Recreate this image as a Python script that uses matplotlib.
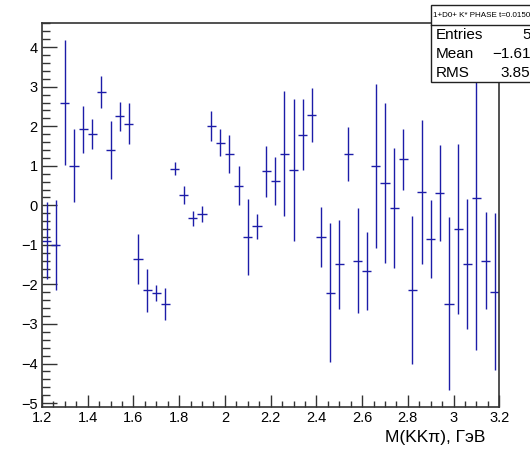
import matplotlib
matplotlib.use("Agg")
import matplotlib.pyplot as plt
from matplotlib.patches import Rectangle
from matplotlib.lines import Line2D
from matplotlib.ticker import MultipleLocator, FormatStrFormatter
import numpy as np

plt.rcParams['font.family'] = ['Liberation Sans', 'DejaVu Sans']

# --- data: 50 bins, width 0.04, from 1.2 to 3.2 ---
bin_lo = 1.2
bin_w = 0.04
values = [-0.89, -1.00, 2.60, 1.00, 1.92, 1.81, 2.86, 1.40, 2.25, 2.07,
          -1.35, -2.15, -2.22, -2.50, 0.93, 0.27, -0.33, -0.21, 2.00, 1.58,
          1.30, 0.50, -0.80, -0.53, 0.86, 0.62, 1.30, 0.90, 1.79, 2.28,
          -0.80, -2.21, -1.49, 1.30, -1.40, -1.66, 0.99, 0.57, -0.07, 1.17,
          -2.13, 0.33, -0.85, 0.31, -2.49, -0.60, -1.48, 0.18, -1.40, -2.18]
errors = [0.97, 1.14, 1.59, 0.92, 0.60, 0.38, 0.40, 0.74, 0.36, 0.52,
          0.63, 0.54, 0.21, 0.40, 0.17, 0.23, 0.18, 0.20, 0.38, 0.34,
          0.47, 0.50, 0.97, 0.31, 0.65, 0.61, 1.58, 1.79, 0.89, 0.69,
          0.77, 1.76, 1.12, 0.68, 1.33, 0.99, 2.07, 2.02, 1.52, 0.77,
          1.87, 1.82, 0.98, 1.22, 2.19, 2.14, 1.65, 3.85, 1.22, 1.99]

stats_title = "1+D0+ K* PHASE t=0.0150"
stats_names = ["Entries", "Mean", "RMS"]
stats_vals = ["5", "\u22121.61", "3.85"]
xlabel = "M(KK\u03c0), \u0413\u044d\u0412"

centers = bin_lo + bin_w * (np.arange(len(values)) + 0.5)

W, H = 530, 450
fig = plt.figure(figsize=(W / 100, H / 100), dpi=100)
ax = fig.add_axes([42 / W, 1 - 407 / H, (499.3 - 42) / W, (407 - 22.7) / H])

ax.errorbar(centers, values, xerr=bin_w / 2, yerr=errors, fmt='none',
            ecolor='#1c1ca8', elinewidth=1.0, capsize=0)

ax.set_xlim(1.2, 3.2)
ax.set_ylim(-5.1, 4.62)

ax.xaxis.set_major_locator(MultipleLocator(0.2))
ax.xaxis.set_minor_locator(MultipleLocator(0.05))
ax.yaxis.set_major_locator(MultipleLocator(1))
ax.yaxis.set_minor_locator(MultipleLocator(0.2))
ax.xaxis.set_major_formatter(FormatStrFormatter('%g'))

ax.tick_params(axis='both', which='both', direction='in', top=False, right=False,
               color='#333333', width=1.0, labelsize=10.5)
ax.tick_params(axis='y', which='major', length=10.5, pad=3)
ax.tick_params(axis='y', which='minor', length=5.5)
ax.tick_params(axis='x', which='major', length=9, pad=3)
ax.tick_params(axis='x', which='minor', length=4.3)
for s in ax.spines.values():
    s.set_color('#333333')
    s.set_linewidth(1.2)

fig.text(485 / W, 1 - 442 / H, xlabel, ha='right', va='baseline', fontsize=12.5)

# --- stats box (ROOT style), clipped by the right edge ---
bx0, by0, bx1, by1 = 430.5 / W, 1 - 81.7 / H, 545 / W, 1 - 5 / H
fig.add_artist(Rectangle((bx0, by0), bx1 - bx0, by1 - by0, transform=fig.transFigure,
                         facecolor='white', edgecolor='#222222', linewidth=1.0, zorder=10))
fig.add_artist(Line2D([bx0, bx1], [1 - 25 / H, 1 - 25 / H], transform=fig.transFigure,
                      color='#222222', linewidth=1.0, zorder=11))
fig.text(433 / W, 1 - 15.5 / H, stats_title, ha='left', va='center', fontsize=5.8, zorder=12)
rows_y = [35, 54, 73.3]
for name, val, ry in zip(stats_names, stats_vals, rows_y):
    fig.text(435.5 / W, 1 - ry / H, name, ha='left', va='center', fontsize=11, zorder=12)
    fig.text(530.5 / W, 1 - ry / H, val, ha='right', va='center', fontsize=11, zorder=12)

fig.savefig("out.png", dpi=100)
